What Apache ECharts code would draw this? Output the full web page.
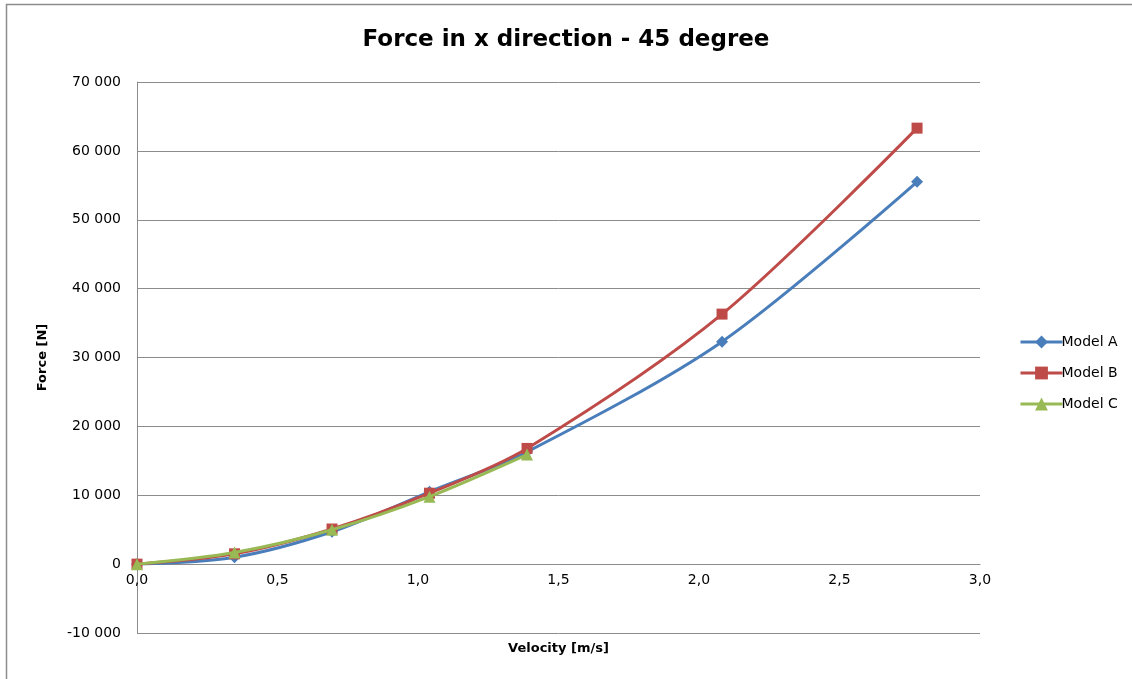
<!DOCTYPE html>
<html>
<head>
<meta charset="utf-8">
<script src="https://cdn.jsdelivr.net/npm/echarts@6/dist/echarts.min.js"></script>
<style>
  html, body { margin: 0; padding: 0; background: #ffffff; }
  #chart { width: 1132px; height: 679px; }
</style>
</head>
<body>
<div id="chart"></div>
<script>
// Velocity samples [m/s]
const velocity = [0, 0.347, 0.694, 1.041, 1.388, 2.082, 2.776];
// Force in x direction [N]
const modelA = [0, 1000, 4700, 10500, 16300, 32300, 55500];
const modelB = [0, 1500, 5100, 10300, 16800, 36300, 63300];
const modelC = [0, 1700, 5000, 9800, 15900];
const seriesNames = ['Model A', 'Model B', 'Model C'];
const yTicks = { min: -10000, max: 70000, interval: 10000 };
const xTicks = { min: 0, max: 3, interval: 0.5 };

const FONT = '"DejaVu Sans", "Open Sans", sans-serif';
const GRID = { left: 137, top: 82, width: 843, height: 551 };

function pairs(values) {
  return values.map((v, i) => [velocity[i], v]);
}
function groupThousands(v) {
  const s = String(Math.abs(v)).replace(/\B(?=(\d{3})+(?!\d))/g, ' ');
  return (v < 0 ? '-' : '') + s;
}

// The velocity axis sits on the zero force line: lift it from the grid bottom
// by the pixel distance between yTicks.min and 0.
const zeroLift = GRID.height * (0 - yTicks.min) / (yTicks.max - yTicks.min);

const chart = echarts.init(document.getElementById('chart'), null, { renderer: 'canvas' });

chart.setOption({
  backgroundColor: '#ffffff',
  animation: false,
  title: {
    text: 'Force in x direction - 45 degree',
    left: 'center',
    top: 24,
    textStyle: { fontFamily: FONT, fontSize: 23, fontWeight: 'bold', color: '#000000' }
  },
  graphic: [{
    type: 'rect',
    shape: { x: 6.5, y: 4.5, width: 1140, height: 700 },
    style: { fill: 'none', stroke: '#8c8c8c', lineWidth: 1.5 },
    silent: true
  }],
  legend: {
    orient: 'vertical',
    left: 1014,
    top: 330,
    itemGap: 17,
    itemWidth: 42,
    itemHeight: 16,
    data: seriesNames,
    lineStyle: { width: 3 },
    textStyle: { fontFamily: FONT, fontSize: 14, color: '#000000', padding: [0, 0, 0, -6] }
  },
  grid: Object.assign({ outerBoundsMode: 'none', containLabel: false }, GRID),
  xAxis: {
    type: 'value',
    position: 'bottom',
    offset: -zeroLift,
    min: xTicks.min, max: xTicks.max, interval: xTicks.interval,
    name: 'Velocity [m/s]',
    nameLocation: 'middle',
    nameGap: 78,
    nameTextStyle: { fontFamily: FONT, fontSize: 13, fontWeight: 'bold', color: '#000000' },
    axisLine: { onZero: false, lineStyle: { color: '#8c8c8c', width: 1 } },
    axisTick: { show: false },
    splitLine: { show: false },
    axisLabel: {
      fontFamily: FONT, fontSize: 14, color: '#000000', margin: 9,
      formatter: v => v.toFixed(1).replace('.', ',')
    }
  },
  yAxis: {
    type: 'value',
    min: yTicks.min, max: yTicks.max, interval: yTicks.interval,
    name: 'Force [N]',
    nameLocation: 'middle',
    nameGap: 88,
    nameRotate: 90,
    nameTextStyle: { fontFamily: FONT, fontSize: 13, fontWeight: 'bold', color: '#000000' },
    axisLine: { show: true, onZero: false, lineStyle: { color: '#8c8c8c', width: 1 } },
    axisTick: { show: false },
    splitLine: { show: true, lineStyle: { color: '#8c8c8c', width: 1 } },
    axisLabel: {
      fontFamily: FONT, fontSize: 14, color: '#000000', margin: 16,
      formatter: groupThousands
    }
  },
  series: [
    {
      name: seriesNames[0], type: 'line', smooth: 0.3,
      data: pairs(modelA),
      symbol: 'diamond', symbolSize: 12,
      itemStyle: { color: '#4a7ebb' },
      lineStyle: { color: '#4a7ebb', width: 3 },
      z: 2
    },
    {
      name: seriesNames[1], type: 'line', smooth: 0.3,
      data: pairs(modelB),
      symbol: 'rect', symbolSize: 11,
      itemStyle: { color: '#be4b48' },
      lineStyle: { color: '#be4b48', width: 3 },
      z: 3
    },
    {
      name: seriesNames[2], type: 'line', smooth: 0.3,
      data: pairs(modelC),
      symbol: 'triangle', symbolSize: 12,
      itemStyle: { color: '#98b954' },
      lineStyle: { color: '#98b954', width: 3 },
      z: 4
    }
  ]
});
</script>
</body>
</html>
